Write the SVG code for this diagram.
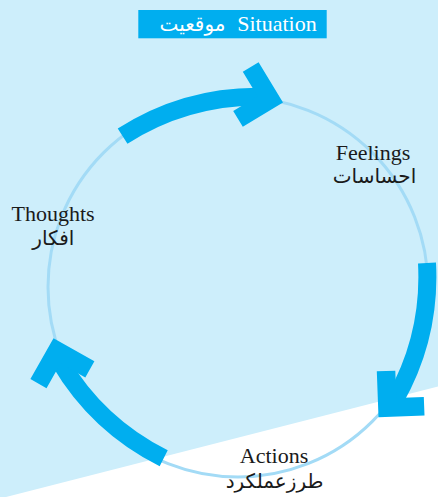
<svg xmlns="http://www.w3.org/2000/svg" width="438" height="497" viewBox="0 0 438 497">
<style>
.lat{font-family:"Liberation Serif","Times New Roman",serif;font-size:22px;fill:#1a1a1a;text-anchor:middle}
.ar{font-family:"Liberation Serif","DejaVu Sans",sans-serif;font-size:20px;fill:#1a1a1a;text-anchor:middle}
.band{fill:none;stroke:#00aeef;stroke-width:18;stroke-linecap:butt}
.head{fill:#00aeef}
</style>
<rect x="0" y="0" width="438" height="497" fill="#cdeefb"/>
<polygon points="6,497 438,386.5 438,497" fill="#ffffff"/>
<g id="cycle">
<circle cx="238" cy="287" r="190" fill="none" stroke="#a3dbf6" stroke-width="3"/>
</g>
<g id="connectors">
<path class="band" d="M122.6,136.1 A250,250 0 0 1 259.7,96.7"/>
<polygon class="head" points="283,102.4 258.6,62.2 242.8,71.8 257.6,96.2 233.2,111 242.8,126.8"/>
<path class="band" d="M427,262.9 A250,250 0 0 1 394.8,399.7"/>
<polygon class="head" points="378.5,417.3 424.5,415.6 423.8,397.1 396.3,398.1 395.3,370.7 376.8,371.3"/>
<path class="band" d="M163.7,458.3 A250,250 0 0 1 59.9,361.3"/>
<polygon class="head" points="53.5,338.2 30.4,379.1 46.5,388.2 60.5,363.4 85.3,377.4 94.4,361.3"/>
</g>
<g id="situation">
<rect x="138.3" y="10" width="188.4" height="28.3" fill="#00aeef"/>
<text class="lat" x="277" y="31" style="fill:#ffffff">Situation</text>
<text class="ar" x="192.5" y="31" style="fill:#ffffff">موقعیت</text>
</g>
<g id="feelings">
<text class="lat" x="373" y="160">Feelings</text>
<text class="ar" x="374.5" y="183">احساسات</text>
</g>
<g id="thoughts">
<text class="lat" x="53" y="220.7">Thoughts</text>
<text class="ar" x="53.3" y="245">افکار</text>
</g>
<g id="actions">
<text class="lat" x="274" y="462.7">Actions</text>
<text class="ar" x="274.5" y="488">طرزعملکرد</text>
</g>
</svg>
